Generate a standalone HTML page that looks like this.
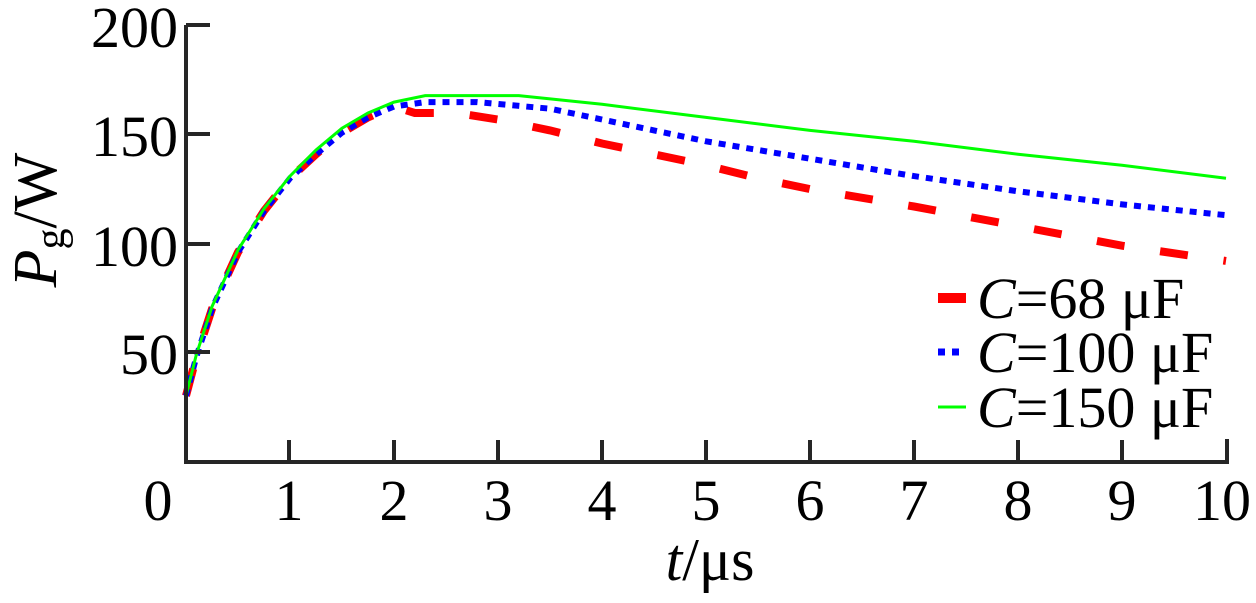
<!DOCTYPE html>
<html><head><meta charset="utf-8"><style>
html,body{margin:0;padding:0;background:#fff;}
svg{display:block;font-family:"Liberation Serif",serif;}
</style></head><body>
<svg width="1256" height="603" viewBox="0 0 1256 603" xmlns="http://www.w3.org/2000/svg">
<g id="curves"></g>
<g stroke="#262626" stroke-width="4" fill="none">
<path d="M186 25 V462 H1227 V439"/>
<path d="M186 25 H210 M186 134 H210 M186 244 H210 M186 352 H210"/>
<path d="M289 462 V440 M394 462 V440 M498 462 V440 M602 462 V440 M706 462 V440 M810 462 V440 M914 462 V440 M1018 462 V440 M1122 462 V440"/>
</g>
<g font-size="58" fill="#000" text-anchor="end">
<text x="178" y="47">200</text>
<text x="178" y="156">150</text>
<text x="178" y="266">100</text>
<text x="178" y="374">50</text>
</g>
<g font-size="58" fill="#000" text-anchor="middle">
<text x="158" y="520">0</text>
<text x="289" y="520">1</text>
<text x="394" y="520">2</text>
<text x="498" y="520">3</text>
<text x="602" y="520">4</text>
<text x="706" y="520">5</text>
<text x="810" y="520">6</text>
<text x="914" y="520">7</text>
<text x="1018" y="520">8</text>
<text x="1122" y="520">9</text>
<text x="1222" y="520">10</text>
</g>
<text x="710" y="580" font-size="60" text-anchor="middle"><tspan font-style="italic">t</tspan>/μs</text>
<text transform="translate(56,220) rotate(-90)" font-size="62" text-anchor="middle"><tspan font-style="italic">P</tspan><tspan font-size="42" dy="8">g</tspan><tspan dy="-8">/W</tspan></text>
<g>
<line x1="938" y1="298" x2="966" y2="298" stroke="#f00" stroke-width="10"/>
<line x1="938" y1="352" x2="964" y2="352" stroke="#00f" stroke-width="7" stroke-dasharray="7 7"/>
<line x1="938" y1="407" x2="966" y2="407" stroke="#0f0" stroke-width="3"/>
<g font-size="58" fill="#000">
<text x="977" y="318"><tspan font-style="italic">C</tspan>=68 μF</text>
<text x="977" y="372"><tspan font-style="italic">C</tspan>=100 μF</text>
<text x="977" y="427"><tspan font-style="italic">C</tspan>=150 μF</text>
</g>
</g>
<script>
(function(){
function X(t){return 186+t*104;}
function Y(p){return 461-p*2.175;}
var rise=[[0,30],[0.1,48],[0.25,70],[0.5,96],[0.75,115],[1,130],[1.25,141],[1.5,151],[1.75,158],[2,163]];
var red=rise.concat([[2.2,160],[2.6,160],[3,157],[3.5,152],[4,146],[4.5,141],[5,136],[5.5,130],[6,125],[7,117],[8,108],[9,99],[10,92]]);
var blue=rise.concat([[2.3,165],[2.8,165],[3.5,162],[4,157],[4.5,152],[5,147],[6,139],[7,131],[8,124],[9,118],[10,113]]);
var green=[[0,30],[0.1,49],[0.25,71],[0.5,97],[0.75,116],[1,131],[1.25,143],[1.5,153],[1.75,160],[2,165],[2.3,168],[3.2,168],[4,164],[5,158],[6,152],[7,147],[8,141],[9,136],[10,130]];
function d(a){return a.map(function(p,i){return (i?"L":"M")+X(p[0]).toFixed(1)+" "+Y(p[1]).toFixed(1);}).join(" ");}
var g=document.getElementById("curves");
var ns="http://www.w3.org/2000/svg";
function add(a,col,w,da){var p=document.createElementNS(ns,"path");p.setAttribute("d",d(a));p.setAttribute("fill","none");p.setAttribute("stroke",col);p.setAttribute("stroke-width",w);if(da)p.setAttribute("stroke-dasharray",da);g.appendChild(p);}
add(red,"#f00",8,"28 36");
add(blue,"#00f",6,"7 7");
add(green,"#0f0",3,null);
})();
</script>
</svg>
</body></html>
